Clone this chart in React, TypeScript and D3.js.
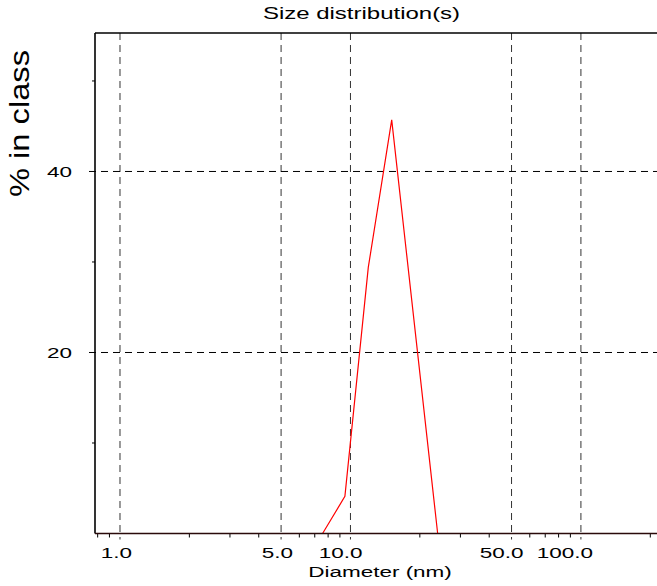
import React from 'react';
import * as d3 from 'd3';

// size distribution
const diameters = [0.4, 7.57, 9.46, 11.95, 15.1, 23.9, 10000];
const percentInClass = [0, 0, 4.1, 29.4, 45.7, 0, 0];

const xMajorTicks = [1, 5, 10, 50, 100, 500];
const xMinorTicks = [0.8, 0.9, 2, 3, 4, 6, 7, 8, 9, 20, 30, 40, 60, 70, 80, 90, 200];
const yMajorTicks = [20, 40];
const yMinorTicks = [10, 30, 50];

const W = 657;
const H = 586;
const left = 95, top = 33, right = 658, bottom = 533.5;
const font = "'Liberation Sans', Arial, Helvetica, sans-serif";

export default function App() {
  const x = d3.scaleLog().domain([0.779, 216]).range([left, right]);
  const y = d3.scaleLinear().domain([0, 55.3]).range([bottom, top]);
  const fmt = d3.format('.1f');

  const pts = diameters.map((d, i) => [d, percentInClass[i]] as [number, number]);
  const line = d3.line<[number, number]>()
    .x((d) => x(d[0]))
    .y((d) => y(d[1]));

  return (
    <svg width={W} height={H} style={{ position: 'absolute', left: 0, top: 0, background: '#fff' }}>
      <defs>
        <clipPath id="plotClip">
          <rect x={left} y={top} width={right - left} height={bottom - top + 1} />
        </clipPath>
      </defs>

      {/* grid */}
      {xMajorTicks.filter((v) => x(v) < W).map((v) => (
        <line key={'gx' + v} x1={x(v)} x2={x(v)} y1={top} y2={bottom + 6}
          stroke="#333" strokeWidth={1} strokeDasharray="7,5" />
      ))}
      {yMajorTicks.map((v) => (
        <line key={'gy' + v} x1={left - 6} x2={right} y1={y(v)} y2={y(v)}
          stroke="#000" strokeWidth={1} strokeDasharray="7,5" />
      ))}

      {/* minor ticks */}
      {xMinorTicks.map((v) => (
        <line key={'mx' + v} x1={x(v)} x2={x(v)} y1={bottom} y2={bottom + 4} stroke="#000" strokeWidth={1} />
      ))}
      {yMinorTicks.map((v) => (
        <line key={'my' + v} x1={left - 3} x2={left} y1={y(v)} y2={y(v)} stroke="#000" strokeWidth={1} />
      ))}

      {/* data */}
      <path d={line(pts) || ''} fill="none" stroke="#ff0000" strokeWidth={1.2} clipPath="url(#plotClip)" />

      {/* frame */}
      <line x1={left} x2={right} y1={top} y2={top} stroke="#000" strokeWidth={1.6} />
      <line x1={left} x2={left} y1={top} y2={bottom} stroke="#000" strokeWidth={1.6} />
      <line x1={left} x2={right} y1={bottom} y2={bottom} stroke="#2a0a0a" strokeWidth={1.6} />

      {/* x tick labels */}
      {xMajorTicks.filter((v) => v <= 100).map((v) => (
        <text key={'lx' + v} transform={`translate(${x(v) + 12},558) scale(1.5,1)`}
          textAnchor="end" fontFamily={font} fontSize={15} fill="#000">{fmt(v)}</text>
      ))}

      {/* y tick labels */}
      {yMajorTicks.map((v) => (
        <text key={'ly' + v} transform={`translate(72,${y(v) + 5.5}) scale(1.5,1)`}
          textAnchor="end" fontFamily={font} fontSize={15} fill="#000">{v}</text>
      ))}

      {/* title and axis titles */}
      <text transform="translate(361.5,19) scale(1.5,1)" textAnchor="middle"
        fontFamily={font} fontSize={16} fill="#000">Size distribution(s)</text>
      <text transform="translate(380,577) scale(1.5,1)" textAnchor="middle"
        fontFamily={font} fontSize={15} fill="#000">Diameter (nm)</text>
      <text transform="translate(28.5,123.5) rotate(-90) scale(1.21,1)" textAnchor="middle"
        fontFamily={font} fontSize={27} fill="#000">% in class</text>
    </svg>
  );
}
